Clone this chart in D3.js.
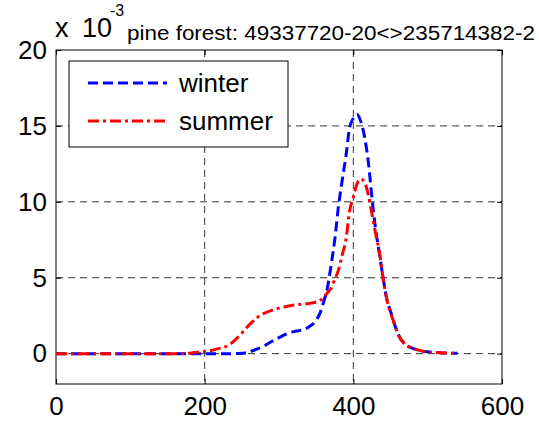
<!DOCTYPE html>
<html>
<head>
<meta charset="utf-8">
<script src="https://cdn.jsdelivr.net/npm/d3@7"></script>
<style>
  html, body { margin: 0; padding: 0; background: #fff; }
  svg { display: block; font-family: "Liberation Sans", Arial, sans-serif; }
</style>
</head>
<body>
<svg id="chart" width="539" height="421"></svg>
<script>
// ---- data (y values in units of 1e-3) ----
const xValues = [0, 20, 40, 60, 80, 100, 120, 140, 160, 170, 180, 190, 200, 210, 220, 230, 240, 250, 260, 270, 280, 290, 300, 310, 320, 330, 340, 350, 355, 360, 365, 370, 375, 380, 385, 390, 395, 400, 405, 410, 415, 420, 425, 430, 435, 440, 445, 450, 455, 460, 470, 480, 490, 500, 520, 540];
const winter  = [0, 0, 0, 0, 0, 0, 0, 0, 0, 0, 0, 0, 0, 0, 0, 0, 0, 0.02, 0.12, 0.3, 0.5, 0.8, 1.05, 1.3, 1.45, 1.55, 1.75, 2.2, 2.65, 3.4, 4.3, 5.8, 7.5, 9.7, 11.4, 13.0, 14.9, 15.5, 15.75, 15.3, 14.3, 12.7, 10.3, 8.2, 6.6, 5.0, 3.6, 2.8, 2.0, 1.3, 0.6, 0.35, 0.2, 0.12, 0.05, 0.02];
const summer  = [0, 0, 0, 0, 0, 0, 0, 0, 0, 0.01, 0.03, 0.1, 0.15, 0.22, 0.35, 0.5, 0.85, 1.35, 1.9, 2.35, 2.65, 2.85, 3.0, 3.1, 3.2, 3.25, 3.3, 3.4, 3.5, 3.7, 4.0, 4.3, 4.9, 5.5, 6.5, 7.5, 9.4, 10.3, 11.2, 11.5, 11.3, 10.5, 9.2, 7.9, 6.7, 5.0, 3.6, 2.7, 2.0, 1.3, 0.6, 0.35, 0.2, 0.12, 0.05, 0.02];
const seriesNames = ["winter", "summer"];
const xTicks = [0, 200, 400, 600];
const yTicks = [0, 5, 10, 15, 20];
const titleText = "pine forest: 49337720-20<>235714382-2";

// ---- layout ----
const svg = d3.select("#chart");
const L = 56, R = 502, T = 50, B = 384;
const x = d3.scaleLinear().domain([0, 600]).range([L, R]);
const y = d3.scaleLinear().domain([-2, 20]).range([B, T]);

// grid
const grid = svg.append("g").attr("stroke", "#333").attr("stroke-width", 1).attr("stroke-dasharray", "7,5");
xTicks.filter(v => v > 0 && v < 600).forEach(v => {
  grid.append("line").attr("x1", x(v)).attr("x2", x(v)).attr("y1", T).attr("y2", B);
});
yTicks.filter(v => v < 20).forEach(v => {
  grid.append("line").attr("x1", L).attr("x2", R).attr("y1", y(v)).attr("y2", y(v));
});

// axes via d3 axis generators (ticks inward, labels outside)
const fs = 26;
const axB = svg.append("g").attr("transform", `translate(0,${B})`)
  .call(d3.axisBottom(x).tickValues(xTicks).tickSizeInner(-5).tickSizeOuter(0).tickPadding(13));
const axT = svg.append("g").attr("transform", `translate(0,${T})`)
  .call(d3.axisTop(x).tickValues(xTicks).tickSizeInner(-5).tickSizeOuter(0).tickFormat(""));
const axL = svg.append("g").attr("transform", `translate(${L},0)`)
  .call(d3.axisLeft(y).tickValues(yTicks).tickSizeInner(-5).tickSizeOuter(0).tickPadding(9));
const axR = svg.append("g").attr("transform", `translate(${R},0)`)
  .call(d3.axisRight(y).tickValues(yTicks).tickSizeInner(-5).tickSizeOuter(0).tickFormat(""));
[axB, axT, axL, axR].forEach(g => {
  g.select(".domain").remove();
  g.selectAll("line").attr("stroke", "#000");
  g.selectAll("text").attr("fill", "#000").attr("font-size", fs).attr("font-family", "Liberation Sans, Arial, sans-serif");
});

// frame
svg.append("rect").attr("x", L).attr("y", T).attr("width", R - L).attr("height", B - T)
  .attr("fill", "none").attr("stroke", "#000").attr("stroke-width", 1);

// lines
const line = d3.line().x((d, i) => x(xValues[i])).y(d => y(d)).curve(d3.curveMonotoneX);
const styles = {
  winter: { color: "#0000ff", dash: "10,5" },
  summer: { color: "#ff0000", dash: "11,4,3,4" }
};
const data = { winter, summer };
seriesNames.forEach(n => {
  svg.append("path").datum(data[n]).attr("d", line)
    .attr("fill", "none").attr("stroke", styles[n].color).attr("stroke-width", 3)
    .attr("stroke-dasharray", styles[n].dash);
});

// legend
const lg = svg.append("g");
lg.append("rect").attr("x", 69).attr("y", 61).attr("width", 219).attr("height", 86)
  .attr("fill", "#fff").attr("stroke", "#000").attr("stroke-width", 1);
seriesNames.forEach((n, i) => {
  const cy = 83 + i * 38;
  lg.append("line").attr("x1", 88).attr("x2", 167).attr("y1", cy).attr("y2", cy)
    .attr("stroke", styles[n].color).attr("stroke-width", 3).attr("stroke-dasharray", styles[n].dash);
  lg.append("text").attr("x", 179).attr("y", cy + 9).attr("font-size", fs).text(n);
});

// title / exponent
svg.append("text").attr("x", 55).attr("y", 37).attr("font-size", 27).text("x");
svg.append("text").attr("x", 82).attr("y", 37).attr("font-size", 27).text("10");
svg.append("text").attr("x", 110).attr("y", 16).attr("font-size", 16).text("-3");
svg.append("text").attr("x", 127).attr("y", 40).attr("font-size", 20)
  .attr("textLength", 408).attr("lengthAdjust", "spacingAndGlyphs").text(titleText);
</script>
</body>
</html>
